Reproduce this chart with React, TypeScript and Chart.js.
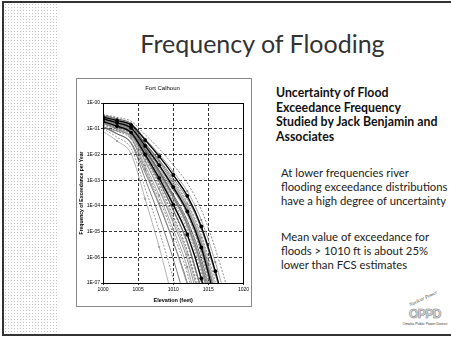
import React, { useEffect, useRef } from "react";
import { Chart, registerables } from "chart.js";

Chart.register(...registerables);

// Elevation grid (feet) at which each curve was read
const elevations = [1000, 1002, 1004, 1006, 1008, 1010, 1012, 1014, 1016, 1018];
const xTicks = [1000, 1005, 1010, 1015, 1020];
const yTickValues = [1, 1e-1, 1e-2, 1e-3, 1e-4, 1e-5, 1e-6, 1e-7];
const yTickLabels = ["1E-00", "1E-01", "1E-02", "1E-03", "1E-04", "1E-05", "1E-06", "1E-07"];

// Each curve: -log10(frequency of exceedance per year) at the elevations above
const meanCurves: number[][] = [
  [0.62, 0.77, 0.97, 1.67, 2.42, 3.27, 4.22, 5.62, 7.67],
  [0.55, 0.68, 0.85, 1.44, 2.08, 2.8, 3.61, 4.8, 6.54, 8.63],
  [0.72, 0.9, 1.15, 2.0, 2.92, 3.95, 5.11, 6.82, 9.32],
];

const grayCurves: number[][] = [
  [0.45, 0.56, 0.71, 1.23, 1.78, 2.41, 3.11, 4.15, 5.67, 7.48],
  [0.55, 0.67, 0.83, 1.39, 1.99, 2.67, 3.43, 4.55, 6.19, 8.15],
  [0.5, 0.63, 0.8, 1.4, 2.05, 2.78, 3.6, 4.8, 6.56, 8.67],
  [0.62, 0.76, 0.94, 1.57, 2.24, 3.01, 3.86, 5.12, 6.97, 9.17],
  [0.7, 0.84, 1.03, 1.69, 2.39, 3.19, 4.08, 5.4, 7.33],
  [0.55, 0.7, 0.89, 1.57, 2.3, 3.12, 4.04, 5.4, 7.39],
  [0.65, 0.8, 1.0, 1.7, 2.45, 3.3, 4.25, 5.65, 7.7],
  [0.58, 0.73, 0.94, 1.66, 2.43, 3.31, 4.29, 5.73, 7.84],
  [0.75, 0.91, 1.12, 1.86, 2.66, 3.56, 4.57, 6.05, 8.22],
  [0.62, 0.79, 1.01, 1.78, 2.6, 3.54, 4.58, 6.12, 8.38],
  [0.7, 0.87, 1.1, 1.89, 2.73, 3.69, 4.77, 6.35, 8.67],
  [0.58, 0.76, 0.99, 1.81, 2.69, 3.68, 4.79, 6.43, 8.83],
  [0.8, 0.98, 1.22, 2.06, 2.96, 3.98, 5.12, 6.8, 9.26],
  [0.66, 0.85, 1.1, 1.97, 2.91, 3.97, 5.16, 6.91, 9.47],
  [0.72, 0.92, 1.18, 2.09, 3.06, 4.17, 5.4, 7.22],
  [0.6, 0.8, 1.08, 2.03, 3.05, 4.2, 5.5, 7.4],
  [0.78, 0.99, 1.28, 2.27, 3.34, 4.54, 5.89, 7.88],
  [0.68, 0.91, 1.21, 2.26, 3.38, 4.66, 6.08, 8.18],
  [0.85, 1.09, 1.41, 2.53, 3.73, 5.09, 6.61, 8.85],
  [0.75, 1.01, 1.36, 2.59, 3.9, 5.39, 7.05],
  [0.9, 1.19, 1.58, 2.95, 4.41, 6.07, 7.92],
  [1.0, 1.33, 1.77, 3.31, 4.96, 6.83, 8.92],
  [1.1, 1.48, 1.98, 3.73, 5.6, 7.73],
  [0.95, 1.09, 1.27, 1.92, 2.61, 3.39, 4.26, 5.55, 7.44],
  [0.45, 0.61, 0.83, 1.58, 2.39, 3.31, 4.34, 5.85, 8.06],
  [0.5, 0.69, 0.95, 1.84, 2.8, 3.89, 5.11, 6.9, 9.52],
  [0.7, 0.83, 0.99, 1.58, 2.21, 2.93, 3.72, 4.9, 6.62, 8.68],
  [0.55, 0.77, 1.06, 2.07, 3.16, 4.39, 5.77, 7.8],
  [0.48, 0.61, 0.79, 1.4, 2.06, 2.81, 3.65, 4.88, 6.68, 8.84],
  [0.68, 0.82, 1.02, 1.69, 2.41, 3.22, 4.14, 5.48, 7.45],
  [0.52, 0.68, 0.88, 1.61, 2.39, 3.28, 4.26, 5.72, 7.85],
  [0.8, 0.96, 1.18, 1.94, 2.76, 3.69, 4.72, 6.25, 8.48],
  [0.6, 0.77, 1.0, 1.8, 2.65, 3.62, 4.7, 6.3, 8.64],
  [0.66, 0.84, 1.08, 1.91, 2.8, 3.81, 4.94, 6.61, 9.05],
  [0.74, 0.92, 1.17, 2.03, 2.95, 4.0, 5.17, 6.89, 9.41],
  [0.62, 0.82, 1.09, 2.02, 3.01, 4.14, 5.41, 7.27],
  [0.7, 0.91, 1.19, 2.17, 3.22, 4.41, 5.74, 7.7],
  [0.8, 1.03, 1.34, 2.43, 3.59, 4.91, 6.38, 8.55],
  [0.95, 1.2, 1.54, 2.71, 3.97, 5.4, 7.0, 9.35],
  [0.62, 0.77, 0.98, 1.69, 2.46, 3.32, 4.29, 5.72, 7.81],
  [0.68, 0.85, 1.07, 1.86, 2.7, 3.65, 4.71, 6.28, 8.58],
  [0.72, 0.87, 1.07, 1.76, 2.5, 3.34, 4.28, 5.67, 7.7],
  [0.55, 0.72, 0.96, 1.77, 2.64, 3.62, 4.73, 6.35, 8.73],
  [0.58, 0.72, 0.91, 1.56, 2.25, 3.04, 3.93, 5.23, 7.14],
];

const toPoints = (curve: number[]) =>
  curve.map((v, i) => ({ x: elevations[i], y: Math.pow(10, -v) }));

const frameBox = {
  id: "frameBox",
  afterDraw(chart: any) {
    const { ctx, chartArea } = chart;
    ctx.save();
    ctx.strokeStyle = "#000";
    ctx.lineWidth = 1;
    ctx.setLineDash([]);
    ctx.strokeRect(
      Math.round(chartArea.left) + 0.5,
      Math.round(chartArea.top) + 0.5,
      Math.round(chartArea.right - chartArea.left),
      Math.round(chartArea.bottom - chartArea.top)
    );
    ctx.restore();
  },
};

function FloodChart() {
  const ref = useRef<HTMLCanvasElement | null>(null);
  useEffect(() => {
    if (!ref.current) return;
    const grayColors = ["#666", "#8a8a8a", "#555", "#777", "#9a9a9a", "#6e6e6e"];
    const datasets: any[] = [];
    meanCurves.forEach((c) => {
      datasets.push({
        data: toPoints(c),
        borderColor: "#000",
        backgroundColor: "#000",
        borderWidth: 1.2,
        pointRadius: 1.9,
        pointBorderWidth: 0,
        cubicInterpolationMode: "monotone",
      });
    });
    grayCurves.forEach((c, i) => {
      const col = grayColors[i % grayColors.length];
      datasets.push({
        data: toPoints(c),
        borderColor: col,
        backgroundColor: col,
        borderWidth: 0.75,
        borderDash: i % 3 === 0 ? [2, 1.5] : [],
        pointRadius: i % 3 === 1 ? 1.1 : 0,
        pointBorderWidth: 0,
        cubicInterpolationMode: "monotone",
      });
    });
    const chart = new Chart(ref.current, {
      type: "line",
      data: { datasets },
      plugins: [frameBox],
      options: {
        animation: false,
        responsive: false,
        maintainAspectRatio: false,
        devicePixelRatio: 1,
        layout: { padding: { left: 2, right: 5, top: 0, bottom: 2 } },
        plugins: {
          legend: { display: false },
          tooltip: { enabled: false },
          title: {
            display: true,
            text: "Fort Calhoun",
            color: "#000",
            font: { family: "Liberation Sans", size: 6, weight: "normal" },
            padding: { top: 6, bottom: 10.8 },
          },
        },
        scales: {
          x: {
            type: "linear",
            min: 1000,
            max: 1020,
            afterBuildTicks: (s: any) => {
              s.ticks = xTicks.map((v) => ({ value: v }));
            },
            afterFit: (s: any) => {
              s.height = 21;
            },
            ticks: {
              color: "#000",
              font: { family: "Liberation Sans", size: 5 },
              padding: 2,
              maxRotation: 0,
              callback: (v: any) => String(v),
            },
            grid: { color: "#000", lineWidth: 0.8, tickLength: 2, tickColor: "#000" },
            border: { display: true, color: "#000", dash: [3, 2] },
            title: {
              display: true,
              text: "Elevation (feet)",
              color: "#000",
              font: { family: "Liberation Sans", size: 5.5, weight: "bold" },
              padding: { top: 2, bottom: 0 },
            },
          },
          y: {
            type: "logarithmic",
            min: 1e-7,
            max: 1,
            afterBuildTicks: (s: any) => {
              s.ticks = yTickValues.map((v) => ({ value: v }));
            },
            afterFit: (s: any) => {
              s.width = 24;
            },
            ticks: {
              color: "#000",
              font: { family: "Liberation Sans", size: 5 },
              padding: 1,
              callback: (v: any) => {
                const i = yTickValues.findIndex((t) => Math.abs(Math.log10(t) - Math.log10(v)) < 1e-6);
                return i >= 0 ? yTickLabels[i] : "";
              },
            },
            grid: { color: "#000", lineWidth: 0.8, tickLength: 2, tickColor: "#000" },
            border: { display: true, color: "#000", dash: [3, 2] },
            title: {
              display: true,
              text: "Frequency of Exceedance per Year",
              color: "#000",
              font: { family: "Liberation Sans", size: 5, weight: "bold" },
              padding: { top: 0, bottom: 0 },
            },
          },
        },
      } as any,
    });
    return () => chart.destroy();
  }, []);
  return <canvas ref={ref} width={174} height={227} style={{ display: "block", width: 174, height: 227 }} />;
}

export default function App() {
  const slideFont = "Lato, 'Open Sans', sans-serif";
  return (
    <div
      style={{
        position: "absolute",
        left: 0,
        top: 0,
        width: 451,
        height: 339,
        background: "#fff",
        overflow: "hidden",
        fontFamily: slideFont,
        color: "#222",
      }}
    >
      {/* slide frame */}
      <div
        style={{
          position: "absolute",
          left: 2,
          top: 1,
          width: 449,
          height: 335,
          borderTop: "2px solid #333",
          borderLeft: "2px solid #333",
          borderBottom: "2px solid #333",
          boxSizing: "border-box",
        }}
      />
      {/* speckled left stripe */}
      <div
        style={{
          position: "absolute",
          left: 4,
          top: 3,
          width: 53,
          height: 331,
          backgroundImage: "radial-gradient(#c4c4c4 0.5px, transparent 0.85px)",
          backgroundSize: "3px 3px",
        }}
      />
      {/* title */}
      <div
        style={{
          position: "absolute",
          left: 100,
          width: 325,
          top: 28,
          textAlign: "center",
          fontSize: 25,
          lineHeight: "30px",
          color: "#333",
        }}
      >
        Frequency of Flooding
      </div>
      {/* chart frame */}
      <div
        style={{
          position: "absolute",
          left: 76,
          top: 78,
          width: 176,
          height: 229,
          border: "1px solid #888",
          boxSizing: "border-box",
          background: "#fff",
        }}
      >
        <FloodChart />
      </div>
      {/* right text */}
      <div
        style={{
          position: "absolute",
          left: 276,
          top: 86,
          width: 175,
          fontSize: 12.3,
          lineHeight: "14.5px",
          fontWeight: 700,
          color: "#111",
        }}
      >
        Uncertainty of Flood
        <br />
        Exceedance Frequency
        <br />
        Studied by Jack Benjamin and
        <br />
        Associates
      </div>
      <div
        style={{
          position: "absolute",
          left: 281,
          top: 166,
          width: 170,
          fontSize: 11.3,
          lineHeight: "14.2px",
          color: "#222",
        }}
      >
        At lower frequencies river
        <br />
        flooding exceedance distributions
        <br />
        have a high degree of uncertainty
      </div>
      <div
        style={{
          position: "absolute",
          left: 281,
          top: 230,
          width: 170,
          fontSize: 11.3,
          lineHeight: "14.2px",
          color: "#222",
        }}
      >
        Mean value of exceedance for
        <br />
        floods &gt; 1010 ft is about 25%
        <br />
        lower than FCS estimates
      </div>
      {/* logo */}
      <div
        style={{
          position: "absolute",
          left: 408,
          top: 296,
          fontSize: 5,
          fontStyle: "italic",
          transform: "rotate(-25deg)",
          color: "#444",
          fontFamily: "'Liberation Serif', serif",
        }}
      >
        Nuclear Power
      </div>
      <div
        style={{
          position: "absolute",
          left: 405,
          top: 307,
          width: 40,
          textAlign: "center",
          fontSize: 12,
          fontWeight: 900,
          letterSpacing: "-0.5px",
          color: "#ddd",
          WebkitTextStroke: "0.5px #777",
          fontFamily: "'Liberation Sans', sans-serif",
          lineHeight: "14px",
        }}
      >
        OPPD
      </div>
      <div
        style={{
          position: "absolute",
          left: 402,
          top: 322,
          width: 46,
          textAlign: "center",
          fontSize: 3.5,
          color: "#333",
          fontFamily: "'Liberation Sans', sans-serif",
        }}
      >
        Omaha Public Power District
      </div>
    </div>
  );
}
